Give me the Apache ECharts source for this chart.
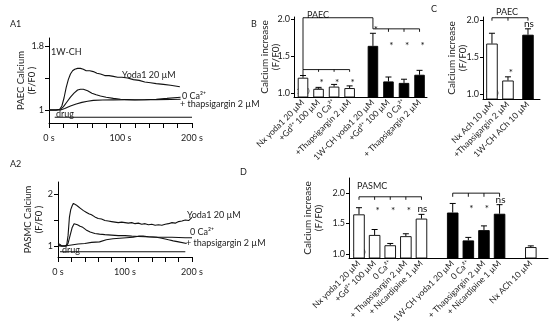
<!DOCTYPE html>
<html><head><meta charset="utf-8">
<script src="https://cdn.jsdelivr.net/npm/echarts@6/dist/echarts.min.js"></script>
<style>html,body{margin:0;padding:0;background:#fff}#c{width:550px;height:327px}</style>
</head><body><div id="c"></div>
<script>
// ---------------- DATA ----------------
// A1: PAEC (1W-CH) calcium traces, [time s, F/F0]
const a1Yoda = [[0,1.0],[5,1.0],[10,1.0],[15,1.01],[18,1.05],[21,1.15],[24,1.28],[27,1.38],[30,1.45],[33,1.49],[36,1.51],[40,1.52],[44,1.52],[48,1.51],[52,1.49],[57,1.49],[62,1.48],[67,1.46],[72,1.45],[78,1.43],[84,1.43],[90,1.42],[96,1.41],[102,1.41],[110,1.40],[118,1.38],[126,1.37],[134,1.35],[142,1.34],[150,1.33],[160,1.32],[170,1.31],[183,1.29]];
const a1ZeroCa = [[0,1.0],[10,1.0],[16,1.01],[20,1.04],[25,1.1],[30,1.16],[35,1.21],[40,1.25],[44,1.26],[48,1.26],[54,1.24],[60,1.21],[66,1.19],[72,1.175],[80,1.16],[90,1.145],[100,1.135],[110,1.13],[120,1.125],[135,1.128],[150,1.135],[165,1.145],[184,1.16]];
const a1Thap = [[0,1.0],[10,1.0],[16,1.0],[22,1.02],[30,1.05],[38,1.075],[46,1.095],[54,1.11],[62,1.12],[75,1.125],[90,1.127],[110,1.128],[130,1.128],[150,1.13],[170,1.132],[184,1.135]];
const a1Drug = [[8,0.91],[200,0.91]];
// A2: PASMC calcium traces
const a2Yoda = [[0,1.05],[3,1.03],[6,1.0],[10,1.0],[13,1.02],[15,1.2],[17,1.55],[19,1.7],[21,1.77],[23,1.82],[25,1.82],[27,1.79],[30,1.76],[34,1.72],[38,1.68],[42,1.65],[46,1.62],[50,1.6],[55,1.56],[60,1.53],[65,1.52],[70,1.49],[75,1.48],[80,1.47],[85,1.46],[90,1.45],[95,1.46],[100,1.45],[105,1.44],[110,1.45],[115,1.43],[120,1.44],[125,1.42],[130,1.43],[135,1.41],[140,1.42],[145,1.4],[150,1.41],[155,1.4],[160,1.42],[165,1.43],[170,1.45],[175,1.44],[180,1.47],[185,1.48],[190,1.5],[195,1.49],[200,1.55]];
const a2ZeroCa = [[0,1.02],[5,1.0],[12,1.0],[15,1.05],[18,1.2],[21,1.35],[24,1.43],[26,1.44],[29,1.41],[33,1.38],[37,1.36],[42,1.31],[48,1.27],[55,1.24],[62,1.23],[70,1.22],[80,1.21],[90,1.2],[100,1.2],[110,1.19],[120,1.185],[130,1.18],[140,1.175],[150,1.17],[160,1.17],[170,1.17],[180,1.165],[190,1.16],[200,1.16]];
const a2Thap = [[0,1.0],[10,1.0],[20,1.02],[30,1.04],[40,1.05],[50,1.07],[62,1.08],[72,1.12],[82,1.14],[92,1.15],[102,1.16],[112,1.17],[120,1.19],[127,1.19],[135,1.18],[147,1.17],[155,1.15],[165,1.12],[172,1.10],[180,1.08],[192,1.05]];
const a2Drug = [[3,0.89],[190,0.89]];
const aTimeLabels = [0, 100, 200];

// B: PAEC Yoda1 responses
const bCategories = ['Nx yoda1 20 µM','+Gd³⁺ 100 µM','0 Ca²⁺','+Thapsigargin 2 µM','1W-CH yoda1 20 µM','+Gd³⁺ 100 µM','0 Ca²⁺','+ Thapsigargin 2 µM'];
const bCondition = ['Nx','Nx','Nx','Nx','1W-CH','1W-CH','1W-CH','1W-CH'];
const bGroup = [0,0,0,0,1,1,1,1];
const bValues = [1.21,1.06,1.09,1.07,1.64,1.16,1.14,1.25];
const bErrors = [0.03,0.02,0.03,0.03,0.17,0.06,0.05,0.06];
const bN = [150,90,90,90,140,90,90,90];
const bSig = [['*',1,1.18],['*',2,1.18],['*',3,1.18],['*',4,1.89],['*',5,1.68],['*',6,1.68],['*',7,1.68]];
const bBrackets = [{from:0,to:3,y:1.32,drop:[1.24,1.29,1.29,1.29]},{from:0,to:4,y:2.02,drop:[1.32,null,null,null,1.87]},{from:4,to:7,y:1.87,drop:[null,1.83,1.83,1.83]}];

// C: PAEC ACh responses
const cCategories = ['Nx Ach 10 µM','+Thapsigargin 2 µM','1W-CH ACh 10 µM'];
const cCondition = ['Nx','Nx','1W-CH'];
const cGroup = [0,0,1];
const cValues = [1.68,1.18,1.80];
const cErrors = [0.14,0.05,0.08];
const cN = [100,90,90];
const cSig = [['*',1,1.32],['ns',2,1.94]];
const cBrackets = [{from:0,to:2,y:2.03,drop:[1.99,1.99,1.99]}];

// D: PASMC responses
const dCategories = ['Nx yoda1 20 µM','+Gd³⁺ 100 µM','0 Ca²⁺','+ Thapsigargin 2 µM','+ Nicardipine 1 µM','1W-CH yoda1 20 µM','0 Ca²⁺','+ Thapsigargin 2 µM','+ Nicardipine 1 µM','Nx ACh 10 µM'];
const dCondition = ['Nx','Nx','Nx','Nx','Nx','1W-CH','1W-CH','1W-CH','1W-CH','Nx'];
const dGroup = [0,0,0,0,0,1,1,1,1,2];
const dValues = [1.65,1.31,1.14,1.29,1.58,1.68,1.22,1.39,1.66,1.11];
const dErrors = [0.11,0.09,0.03,0.04,0.07,0.15,0.05,0.07,0.15,0.02];
const dN = [150,90,90,90,90,140,90,90,90,50];
const dSig = [['*',1,1.75],['*',2,1.75],['*',3,1.75],['ns',4,1.74],['*',6,1.79],['*',7,1.79],['ns',8,1.89]];
const dBrackets = [{from:0,to:4,y:1.94,drop:[1.89,1.89,1.89,1.89,1.89]},{from:5,to:8,y:2.0,drop:[1.94,1.94,1.94,1.94]}];

// ---------------- RENDER ----------------
const FONT = 'Lato';
const TXT = '#222';
const chart = echarts.init(document.getElementById('c'), null, {renderer:'canvas', width:550, height:327});
const fill = {'Nx':'#ffffff','1W-CH':'#000000'};

function positions(groups, gap){ return groups.map((g,i)=> i + g*gap); }

const panels = {
  B: {grid:{left:294, top:17, width:133, height:80}, y:[0.95,2.03], x:[-0.58,7.98], gap:0.5, bw:10.5, nameGap:13,
      cats:bCategories, cond:bCondition, group:bGroup, vals:bValues, errs:bErrors, n:bN, sig:bSig, br:bBrackets},
  C: {grid:{left:483, top:17, width:57, height:82}, y:[0.93,2.04], x:[-0.56,3.0], gap:0.25, bw:11.5, nameGap:15,
      cats:cCategories, cond:cCondition, group:cGroup, vals:cValues, errs:cErrors, n:cN, sig:cSig, br:cBrackets},
  D: {grid:{left:349, top:178, width:199, height:80}, y:[0.93,2.25], x:[-0.64,12.1], gap:1.0, bw:11.5, nameGap:25,
      cats:dCategories, cond:dCondition, group:dGroup, vals:dValues, errs:dErrors, n:dN, sig:dSig, br:dBrackets}
};

const grids = [
  {left:49, top:38, width:143, height:85},
  {left:58, top:182, width:134, height:75},
  panels.B.grid, panels.C.grid, panels.D.grid
];

const axisLineStyle = {color:'#000', width:1};
const lblStyle = {fontFamily:FONT, fontSize:9, color:TXT};

const xAxes = [], yAxes = [], series = [];

// A panels
[[a1Yoda,a1ZeroCa,a1Thap,a1Drug,[0.8375,1.9],[1,1.8],[1,1.4,1.8],'PAEC Calcium\n(F/F0 )',12],
 [a2Yoda,a2ZeroCa,a2Thap,a2Drug,[0.79,2.23],[1,2],[1,1.5,2],'PASMC Calcium\n(F/F0 )',14]].forEach((p,k)=>{
  xAxes.push({gridIndex:k, type:'value', min:0, max:200, interval:20,
    axisLine:{show:true,onZero:false,lineStyle:axisLineStyle},
    axisTick:{show:true,length:5,lineStyle:axisLineStyle},
    axisLabel:Object.assign({customValues:aTimeLabels, formatter:v=>v+' s', margin:11}, lblStyle),
    splitLine:{show:false}});
  yAxes.push({gridIndex:k, type:'value', min:p[4][0], max:p[4][1],
    axisLine:{show:true,onZero:false,lineStyle:axisLineStyle},
    axisTick:{show:true,length:4,customValues:p[6],lineStyle:axisLineStyle},
    axisLabel:Object.assign({customValues:p[5], formatter:v=>String(Math.round(v*10)/10), margin:5}, lblStyle),
    splitLine:{show:false},
    name:p[7], nameLocation:'middle', nameGap:p[8], nameRotate:90, nameMoveOverlap:false,
    nameTextStyle:{fontFamily:FONT,fontSize:9.5,color:TXT,lineHeight:11}});
  [p[0],p[1],p[2],p[3]].forEach(d=>{
    series.push({type:'line', xAxisIndex:k, yAxisIndex:k, data:d, showSymbol:false, symbol:'none',
      lineStyle:{color:'#111', width:1.1}, animation:false, silent:true});
  });
});

// bar panels
['B','C','D'].forEach((key,j)=>{
  const k = j+2, P = panels[key];
  const pos = positions(P.group, P.gap);
  xAxes.push({gridIndex:k, type:'value', min:P.x[0], max:P.x[1],
    axisLine:{show:true,onZero:false,lineStyle:axisLineStyle},
    axisTick:{show:false}, splitLine:{show:false},
    axisLabel:{customValues:pos, rotate:45, margin:4, fontFamily:FONT, fontSize:8.5, color:TXT,
      formatter:v=>{const i=pos.findIndex(q=>Math.abs(q-v)<1e-6); return i>=0?P.cats[i]:'';}}});
  yAxes.push({gridIndex:k, type:'value', min:P.y[0], max:P.y[1],
    axisLine:{show:true,onZero:false,lineStyle:axisLineStyle},
    axisTick:{show:true,length:3,customValues:[1,1.5,2],lineStyle:axisLineStyle},
    axisLabel:Object.assign({customValues:[1,1.5,2], formatter:v=>v.toFixed(1), margin:4}, lblStyle),
    splitLine:{show:false},
    name:'Calcium increase\n(F/F0)', nameLocation:'middle', nameGap:P.nameGap, nameRotate:90, nameMoveOverlap:false,
    nameTextStyle:{fontFamily:FONT,fontSize:10,color:TXT,lineHeight:11}});
  series.push({type:'bar', xAxisIndex:k, yAxisIndex:k, barWidth:P.bw, clip:true, animation:false, silent:true,
    data:P.vals.map((v,i)=>({value:[pos[i],v], itemStyle:{color:fill[P.cond[i]], borderColor:'#000', borderWidth:0.9}}))});
  // error bars + n labels
  series.push({type:'custom', xAxisIndex:k, yAxisIndex:k, animation:false, silent:true,
    data:P.vals.map((v,i)=>[pos[i],v,P.errs[i]]),
    renderItem:(params,api)=>{
      const i = params.dataIndex;
      const x = api.value(0), v = api.value(1), e = api.value(2);
      const b = api.coord([x,v]), t = api.coord([x,v+e]), base = api.coord([x,P.y[0]]);
      const dark = P.cond[i]==='1W-CH';
      return {type:'group', children:[
        {type:'line', shape:{x1:b[0],y1:b[1],x2:t[0],y2:t[1]}, style:{stroke:'#000',lineWidth:1}},
        {type:'line', shape:{x1:t[0]-3,y1:t[1],x2:t[0]+3,y2:t[1]}, style:{stroke:'#000',lineWidth:1}},
        {type:'text', x:base[0], y:base[1]-1, style:{text:String(P.n[i]), fontFamily:FONT, fontSize:7.5,
          fill:dark?'#fff':'#444', align:'center', verticalAlign:'bottom'}}
      ]};
    }});
  // brackets
  series.push({type:'custom', xAxisIndex:k, yAxisIndex:k, animation:false, silent:true,
    data:P.br.map(b=>[pos[b.from],b.y]),
    renderItem:(params,api)=>{
      const br = P.br[params.dataIndex];
      const l = api.coord([pos[br.from],br.y]), r = api.coord([pos[br.to],br.y]);
      const ch = [{type:'line', shape:{x1:l[0],y1:l[1],x2:r[0],y2:r[1]}, style:{stroke:'#000',lineWidth:0.9}}];
      br.drop.forEach((d,m)=>{
        if(d==null) return;
        const a = api.coord([pos[br.from+m],br.y]), z = api.coord([pos[br.from+m],d]);
        ch.push({type:'line', shape:{x1:a[0],y1:a[1],x2:z[0],y2:z[1]}, style:{stroke:'#000',lineWidth:0.9}});
      });
      return {type:'group', children:ch};
    }});
  // significance marks (value = visual centre of the mark)
  series.push({type:'custom', xAxisIndex:k, yAxisIndex:k, animation:false, silent:true,
    data:P.sig.map(s=>[pos[s[1]],s[2]]),
    renderItem:(params,api)=>{
      const s = P.sig[params.dataIndex];
      const c = api.coord([api.value(0),api.value(1)]);
      const star = s[0]==='*';
      return {type:'text', x:c[0]+(star?3:1), y:c[1]+(star?2.5:-0.5), style:{text:s[0], fontFamily:FONT,
        fontSize:10, fill:'#111', align:'center', verticalAlign:'middle'}};
    }});
});

const T = (text,x,y,opt)=>Object.assign({type:'text', x, y, style:Object.assign({text, fontFamily:FONT, fontSize:9, fill:TXT, verticalAlign:'middle'}, opt||{})});
const graphic = [
  T('A1',10,24), T('A2',10,164), T('B',251,24), T('C',431,9), T('D',240,172),
  T('1W-CH',51,52),
  T('drug',56,114), T('drug',62,250),
  T('Yoda1 20 µM',122,75), T('0 Ca²⁺',182,96), T('+ thapsigargin 2 µM',180,104),
  T('Yoda1 20 µM',187,215), T('0 Ca²⁺',190,232), T('+ thapsigargin 2 µM',186,243),
  T('PAEC',307,15), T('PAEC',496,12), T('PASMC',357,186)
];

chart.setOption({animation:false, grid:grids, xAxis:xAxes, yAxis:yAxes, series, graphic});
</script></body></html>
